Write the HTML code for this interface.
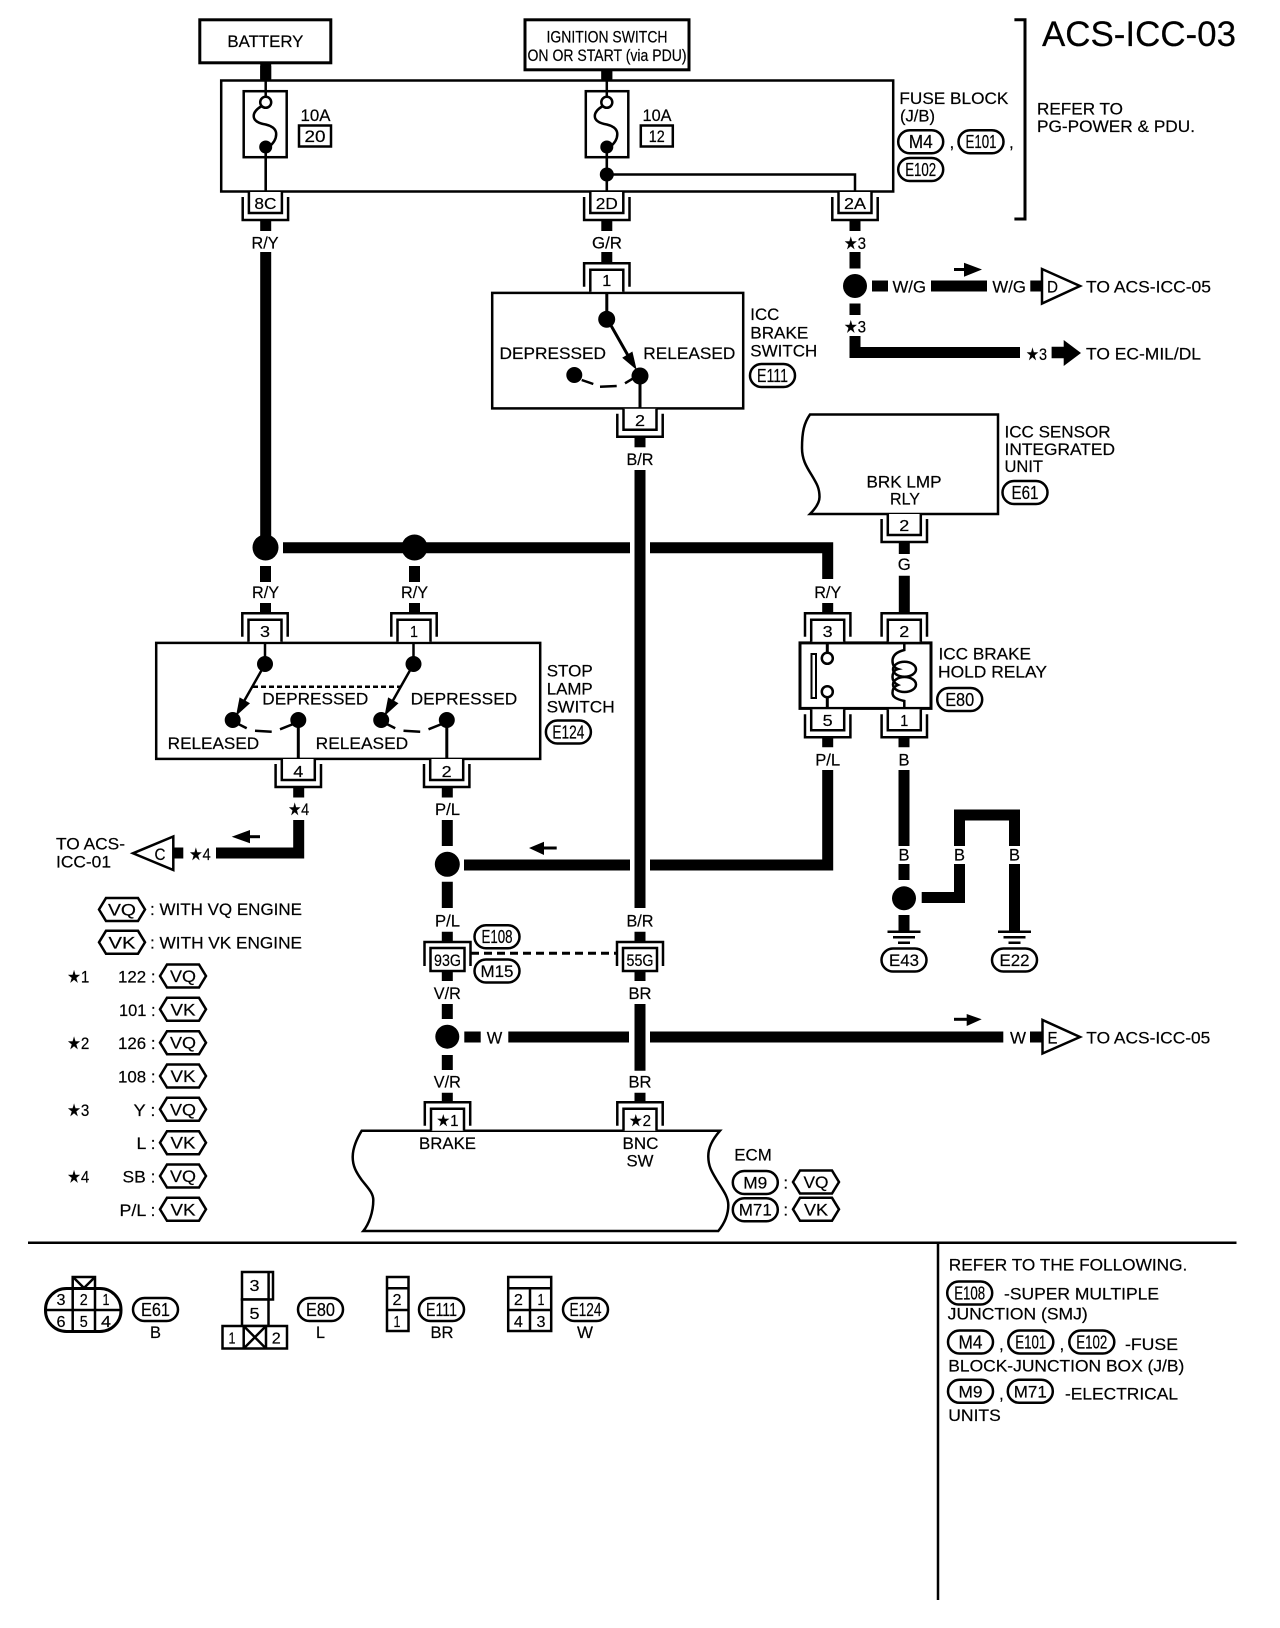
<!DOCTYPE html>
<html><head><meta charset="utf-8"><title>ACS-ICC-03</title>
<style>
html,body{margin:0;padding:0;background:#fff}
svg{display:block}
text{font-family:"Liberation Sans","DejaVu Sans",sans-serif;font-size:17px;fill:#000;stroke:#000;stroke-width:.2px}
.m{text-anchor:middle}
.e{text-anchor:end}
.s{font-size:16px}
.p{font-size:18px}
.w{fill:none;stroke:#000;stroke-width:11}
.l{fill:none;stroke:#000;stroke-width:2.5}
.k{fill:none;stroke:#000;stroke-width:3}
.b{fill:#fff;stroke:#000;stroke-width:2.5}
</style></head><body>
<svg width="1280" height="1628" viewBox="0 0 1280 1628" xmlns="http://www.w3.org/2000/svg">
<defs>
<g id="cb"><path class="b" d="M-16.5,0V21H16.5V0"/><path class="l" d="M-22.7,5V28H22.7V5"/></g>
<g id="ct"><path class="b" d="M-16.5,0V-22H16.5V0"/><path class="l" d="M-22.7,-5V-28.4H22.7V-5"/></g>
<g id="cj"><path class="l" d="M-23,24V0H23V24"/><rect class="b" x="-17" y="6" width="34" height="23"/></g>
<polygon id="hex" class="b" points="-23,0 -16,-11.5 16,-11.5 23,0 16,11.5 -16,11.5"/>
<rect id="p46" class="b" x="-22.5" y="-11.5" width="45" height="23" rx="11.5" ry="11.5"/>
<g id="gnd"><path class="l" d="M-16.5,0H16.5M-11,5.5H11M-6,11H6" stroke-width="3"/></g>
<g id="fuse"><path class="l" d="M0,80V97M0,147V192"/><circle cx="0" cy="102.3" r="5.5" fill="#fff" stroke="#000" stroke-width="2.5"/><circle cx="0" cy="147" r="6.5" fill="#000"/><path class="l" d="M-4,106C-9,109-12,112-12,116C-12,121-6,123.5 0,124.5C6,126 10.5,129 10.5,134C10.5,140 7,144 3,147"/></g>
<g id="sw"><circle cx="265" cy="664" r="8"/><path class="l" d="M265,642V664M264,666L243,703" stroke-width="3"/><polygon points="236,716 239.6,697.4 250,703.2"/><circle cx="232.7" cy="720" r="8"/><circle cx="298.3" cy="720" r="8"/><path class="k" d="M298.3,720V759"/><path class="l" d="M238.3,724L246.7,728.3M255,730.7L271.7,731.7M280,729.3L293.3,724"/></g>
</defs>

<!-- top -->
<rect x="199.8" y="19.8" width="131" height="43" fill="#fff" stroke="#000" stroke-width="3"/>
<text x="265.4" y="47" class="m" textLength="76" lengthAdjust="spacingAndGlyphs">BATTERY</text>
<rect x="525" y="19.8" width="164" height="50" fill="#fff" stroke="#000" stroke-width="3"/>
<text x="607" y="42.5" class="m" textLength="121" lengthAdjust="spacingAndGlyphs">IGNITION SWITCH</text>
<text x="607" y="61" class="m" textLength="159" lengthAdjust="spacingAndGlyphs">ON OR START (via PDU)</text>
<path class="w" d="M265.7,64V80M606.8,70V80"/>
<rect x="221.2" y="80.5" width="672" height="111" fill="#fff" stroke="#000" stroke-width="2.5"/>
<path class="w" d="M265.7,66V79M606.8,71V79"/>
<rect x="243.7" y="91.2" width="43" height="66" class="b"/>
<rect x="585.8" y="91.2" width="42.5" height="66" class="b"/>
<use href="#fuse" x="265.7"/><use href="#fuse" x="606.8"/>
<text x="300.5" y="121" textLength="30" lengthAdjust="spacingAndGlyphs">10A</text>
<rect x="299" y="125.5" width="32" height="21" class="b"/>
<text x="315" y="142" class="m" textLength="21" lengthAdjust="spacingAndGlyphs">20</text>
<text x="642.5" y="121" textLength="29" lengthAdjust="spacingAndGlyphs">10A</text>
<rect x="640.8" y="125.5" width="32" height="21" class="b"/>
<text x="656.8" y="142" class="m" textLength="16" lengthAdjust="spacingAndGlyphs">12</text>
<circle cx="606.8" cy="174.5" r="7"/>
<path class="l" d="M606.8,174.5H855V192"/>

<use href="#cb" x="265.4" y="192"/><use href="#cb" x="606.8" y="192"/><use href="#cb" x="855" y="192"/>
<path class="l" d="M265.7,147V192M606.8,147V192"/>
<text x="265.4" y="209" class="m s" textLength="22" lengthAdjust="spacingAndGlyphs">8C</text>
<text x="606.8" y="209" class="m s" textLength="22" lengthAdjust="spacingAndGlyphs">2D</text>
<text x="855" y="209" class="m s" textLength="22" lengthAdjust="spacingAndGlyphs">2A</text>
<path class="w" d="M265.7,220V231M606.8,220V231M855,220V231"/>
<text x="265" y="248.5" class="m" textLength="27" lengthAdjust="spacingAndGlyphs">R/Y</text>
<text x="607" y="248.5" class="m" textLength="30" lengthAdjust="spacingAndGlyphs">G/R</text>
<path class="w" d="M265.7,252V540"/>
<path class="w" d="M606.8,252V264"/>

<!-- bracket and title -->
<path class="k" d="M1014.4,19.8H1025V219H1014.4"/>
<text x="1042" y="46" style="font-size:35px" textLength="194" lengthAdjust="spacingAndGlyphs">ACS-ICC-03</text>
<text x="1037" y="114.5" textLength="86" lengthAdjust="spacingAndGlyphs">REFER TO</text>
<text x="1037" y="132.2" textLength="158" lengthAdjust="spacingAndGlyphs">PG-POWER &amp; PDU.</text>
<text x="899.4" y="104" textLength="109" lengthAdjust="spacingAndGlyphs">FUSE BLOCK</text>
<text x="900" y="121.7" textLength="35" lengthAdjust="spacingAndGlyphs">(J/B)</text>
<use href="#p46" x="920.7" y="141.7"/><text x="920.7" y="148" class="m p" textLength="24" lengthAdjust="spacingAndGlyphs">M4</text>
<text x="949.5" y="148">,</text>
<use href="#p46" x="981" y="141.7"/><text x="981" y="148" class="m p" textLength="31" lengthAdjust="spacingAndGlyphs">E101</text>
<text x="1009" y="148">,</text>
<use href="#p46" x="920.7" y="169.5"/><text x="920.7" y="175.8" class="m p" textLength="31" lengthAdjust="spacingAndGlyphs">E102</text>

<!-- right of 2A -->
<text x="855" y="249" class="m" textLength="22" lengthAdjust="spacingAndGlyphs">★3</text>
<path class="w" d="M855,252V268.5"/>
<circle cx="855" cy="286" r="12"/>
<path class="w" d="M855,303.5V315"/>
<text x="855" y="332.5" class="m" textLength="22" lengthAdjust="spacingAndGlyphs">★3</text>
<path class="w" d="M855,336V352.5H1020"/>
<text x="1026" y="360" textLength="21" lengthAdjust="spacingAndGlyphs">★3</text>
<polygon points="1051.6,346.7 1063.7,346.7 1063.7,340 1081,353 1063.7,366 1063.7,358.3 1051.6,358.3"/>
<text x="1086" y="359.5" textLength="115" lengthAdjust="spacingAndGlyphs">TO EC-MIL/DL</text>
<path class="w" d="M872,286H888"/>
<text x="892.5" y="292.7" textLength="33.5" lengthAdjust="spacingAndGlyphs">W/G</text>
<path class="w" d="M931,286H987"/>
<path class="k" d="M954,269.5H966"/><polygon points="982,269.5 964,262.7 964,276.7"/>
<text x="992.4" y="292.7" textLength="33.5" lengthAdjust="spacingAndGlyphs">W/G</text>
<path class="w" d="M1030.3,286H1042"/>
<polygon class="b" points="1042,269 1042,303.5 1080,286"/>
<text x="1047" y="292.7" textLength="11" lengthAdjust="spacingAndGlyphs">D</text>
<text x="1086" y="292.7" textLength="125" lengthAdjust="spacingAndGlyphs">TO ACS-ICC-05</text>

<!-- ICC brake switch -->
<rect x="492.2" y="292.9" width="251" height="115.5" class="b"/>
<use href="#ct" x="606.8" y="291.7"/>
<text x="606.8" y="286" class="m s" textLength="9" lengthAdjust="spacingAndGlyphs">1</text>
<path class="k" d="M606.8,292V319M609,322L630,359"/>
<circle cx="606.7" cy="319.3" r="8.5"/>
<polygon points="636.7,370 622.2,357.7 632.4,351.5"/>
<circle cx="640" cy="376" r="8.5"/><circle cx="574.3" cy="375" r="8"/>
<path class="k" d="M640,376V408"/>
<path class="l" d="M581.7,380L593.3,384M600,386.7L616.7,386M625,383.3L633.3,378.3"/>
<text x="499.5" y="359" textLength="106.5" lengthAdjust="spacingAndGlyphs">DEPRESSED</text>
<text x="643.3" y="359" textLength="92" lengthAdjust="spacingAndGlyphs">RELEASED</text>
<text x="750.3" y="320" textLength="29" lengthAdjust="spacingAndGlyphs">ICC</text>
<text x="750.3" y="338.3" textLength="58" lengthAdjust="spacingAndGlyphs">BRAKE</text>
<text x="750.3" y="356.7" textLength="67" lengthAdjust="spacingAndGlyphs">SWITCH</text>
<use href="#p46" x="772.5" y="375.5"/><text x="772.5" y="382" class="m p" textLength="31" lengthAdjust="spacingAndGlyphs">E111</text>
<use href="#cb" x="640" y="408.8"/>
<text x="640" y="426" class="m s" textLength="10" lengthAdjust="spacingAndGlyphs">2</text>
<path class="w" d="M640,436V447.3"/>
<text x="640" y="465" class="m" textLength="27" lengthAdjust="spacingAndGlyphs">B/R</text>
<path class="w" d="M640,470V908"/>

<!-- junction row -->
<circle cx="265.5" cy="547.5" r="13"/><circle cx="414.5" cy="547.5" r="13"/>
<path class="w" d="M283,547.8H630M650,547.8H827.7V579"/>
<path class="w" d="M265.5,566V582M414.5,566V582"/>
<text x="265.5" y="598" class="m" textLength="27" lengthAdjust="spacingAndGlyphs">R/Y</text>
<text x="414.5" y="598" class="m" textLength="27" lengthAdjust="spacingAndGlyphs">R/Y</text>
<text x="827.7" y="598" class="m" textLength="27" lengthAdjust="spacingAndGlyphs">R/Y</text>
<path class="w" d="M265.5,603V614M414.5,603V614M827.7,603V614"/>

<!-- stop lamp switch -->
<rect x="156.2" y="642.9" width="384" height="116" class="b"/>
<use href="#ct" x="265" y="641.7"/><use href="#ct" x="414" y="641.7"/>
<text x="265" y="637" class="m s" textLength="10" lengthAdjust="spacingAndGlyphs">3</text>
<text x="414" y="637" class="m s" textLength="8" lengthAdjust="spacingAndGlyphs">1</text>
<use href="#sw"/><use href="#sw" x="148.5"/>
<path class="l" d="M253,686.7H400" stroke-dasharray="5 3"/>
<text x="262.3" y="704.5" textLength="106" lengthAdjust="spacingAndGlyphs">DEPRESSED</text>
<text x="410.7" y="704.5" textLength="106.5" lengthAdjust="spacingAndGlyphs">DEPRESSED</text>
<text x="167.7" y="749" textLength="91.5" lengthAdjust="spacingAndGlyphs">RELEASED</text>
<text x="315.7" y="749" textLength="92.5" lengthAdjust="spacingAndGlyphs">RELEASED</text>
<text x="546.7" y="676.7" textLength="46" lengthAdjust="spacingAndGlyphs">STOP</text>
<text x="546.7" y="694.5" textLength="46" lengthAdjust="spacingAndGlyphs">LAMP</text>
<text x="546.7" y="712.7" textLength="68" lengthAdjust="spacingAndGlyphs">SWITCH</text>
<use href="#p46" x="568.4" y="732"/><text x="568.4" y="738.5" class="m p" textLength="32" lengthAdjust="spacingAndGlyphs">E124</text>
<use href="#cb" x="298.3" y="759"/><use href="#cb" x="446.7" y="759"/>
<text x="298.3" y="777" class="m s" textLength="10" lengthAdjust="spacingAndGlyphs">4</text>
<text x="446.7" y="777" class="m s" textLength="10" lengthAdjust="spacingAndGlyphs">2</text>
<path class="w" d="M298.7,788V797.5M447.3,788V797.5"/>
<text x="298.7" y="815" class="m" textLength="21" lengthAdjust="spacingAndGlyphs">★4</text>
<text x="447.5" y="815" class="m" textLength="25" lengthAdjust="spacingAndGlyphs">P/L</text>
<path class="w" d="M298.7,820V853H216"/>
<path class="k" d="M246,836.7H260"/><polygon points="231.7,836.7 250,830 250,843.3"/>
<text x="189.3" y="860" textLength="21.5" lengthAdjust="spacingAndGlyphs">★4</text>
<path class="w" d="M174.3,853H183.3"/>
<polygon class="b" points="173.3,836.5 173.3,870 133,853.3"/>
<text x="160" y="860" class="m" textLength="11" lengthAdjust="spacingAndGlyphs">C</text>
<text x="56" y="849.5" textLength="69" lengthAdjust="spacingAndGlyphs">TO ACS-</text>
<text x="56" y="867.5" textLength="55" lengthAdjust="spacingAndGlyphs">ICC-01</text>

<!-- P/L and BR vertical -->
<path class="w" d="M447.3,820V846"/>
<circle cx="447.3" cy="864.3" r="12.5"/>
<path class="w" d="M464,865H630M650,865H827.7V770"/>
<path class="k" d="M543,848H556.7"/><polygon points="529,848 544,841.7 544,855"/>
<path class="w" d="M447.3,881.7V908"/>
<text x="447.5" y="926.7" class="m" textLength="25" lengthAdjust="spacingAndGlyphs">P/L</text>
<text x="640" y="926.7" class="m" textLength="27" lengthAdjust="spacingAndGlyphs">B/R</text>
<path class="w" d="M447.3,931.7V942M640,931.7V942"/>
<use href="#cj" x="447.5" y="942"/><use href="#cj" x="640" y="942"/>
<text x="447.5" y="966" class="m" style="font-size:17px" textLength="27" lengthAdjust="spacingAndGlyphs">93G</text>
<text x="640" y="966" class="m" style="font-size:17px" textLength="27" lengthAdjust="spacingAndGlyphs">55G</text>
<path class="k" d="M471,953.3H616.7" stroke-dasharray="8 5"/>
<use href="#p46" x="497" y="936.7"/><text x="497" y="943" class="m p" textLength="31" lengthAdjust="spacingAndGlyphs">E108</text>
<use href="#p46" x="497" y="971"/><text x="497" y="977" class="m" textLength="33" lengthAdjust="spacingAndGlyphs">M15</text>
<path class="w" d="M447.3,971V981M640,971V981"/>
<text x="447.3" y="999" class="m" textLength="27" lengthAdjust="spacingAndGlyphs">V/R</text>
<text x="640" y="999" class="m" textLength="23" lengthAdjust="spacingAndGlyphs">BR</text>
<path class="w" d="M447.3,1004V1019M640,1004V1070.7"/>
<circle cx="447.3" cy="1036.7" r="12"/>
<path class="w" d="M447.3,1055V1070"/>
<path class="w" d="M464.3,1037H480.7M508.3,1037H629M650,1037H1003.3"/>
<text x="486.7" y="1043.3" textLength="15.5" lengthAdjust="spacingAndGlyphs">W</text>
<path class="k" d="M954,1019.3H968"/><polygon points="981.7,1019.3 966.7,1014 966.7,1026"/>
<text x="1010" y="1043.3" textLength="16" lengthAdjust="spacingAndGlyphs">W</text>
<path class="w" d="M1030,1037H1042"/>
<polygon class="b" points="1042.5,1020 1042.5,1053.5 1080,1037"/>
<text x="1047.5" y="1043.3" textLength="10" lengthAdjust="spacingAndGlyphs">E</text>
<text x="1086.3" y="1043.3" textLength="124" lengthAdjust="spacingAndGlyphs">TO ACS-ICC-05</text>
<text x="447.3" y="1087.3" class="m" textLength="27" lengthAdjust="spacingAndGlyphs">V/R</text>
<text x="640" y="1087.3" class="m" textLength="23" lengthAdjust="spacingAndGlyphs">BR</text>
<path class="w" d="M447.3,1092.7V1103M640,1092.7V1103"/>

<!-- ECM -->
<path class="b" d="M361.7,1130.7H720C712,1140 708,1148 708.3,1157C708.5,1167 712,1172 716.7,1180C723,1190 728.3,1197 728.3,1205C728.3,1215 724,1224 718.3,1231H363.3C369,1224 373.3,1212 373.3,1200C373.3,1193 368,1188 361.7,1180C356,1172 352.7,1166 352.7,1157C352.7,1148 356,1140 361.7,1130.7Z"/>
<use href="#ct" x="447.5" y="1130.7"/><use href="#ct" x="640" y="1130.7"/>
<text x="447.5" y="1126" class="m s" textLength="22" lengthAdjust="spacingAndGlyphs">★1</text>
<text x="640" y="1126" class="m s" textLength="22" lengthAdjust="spacingAndGlyphs">★2</text>
<text x="447.5" y="1149" class="m" textLength="57" lengthAdjust="spacingAndGlyphs">BRAKE</text>
<text x="640.5" y="1149" class="m" textLength="36" lengthAdjust="spacingAndGlyphs">BNC</text>
<text x="640" y="1166.7" class="m" textLength="27" lengthAdjust="spacingAndGlyphs">SW</text>
<text x="734.3" y="1160.7" textLength="37.5" lengthAdjust="spacingAndGlyphs">ECM</text>
<use href="#p46" x="755.3" y="1182.5"/><text x="755.3" y="1188.5" class="m" textLength="24" lengthAdjust="spacingAndGlyphs">M9</text>
<text x="785.7" y="1188.5" class="m">:</text>
<use href="#hex" x="816" y="1182"/><text x="816" y="1188" class="m" textLength="25" lengthAdjust="spacingAndGlyphs">VQ</text>
<use href="#p46" x="755.3" y="1209.7"/><text x="755.3" y="1215.7" class="m" textLength="33" lengthAdjust="spacingAndGlyphs">M71</text>
<text x="785.7" y="1215.7" class="m">:</text>
<use href="#hex" x="816" y="1209.3"/><text x="816" y="1215.3" class="m" textLength="24" lengthAdjust="spacingAndGlyphs">VK</text>

<!-- ICC sensor + relay -->
<path class="b" d="M810,414.5H998V514H810C815,509 819.5,503 819.5,497C819.5,488 817,484 811,474C806,466 802,459 802,448C802,432 804,423 810,414.5Z"/>
<text x="904" y="487.7" class="m" textLength="75" lengthAdjust="spacingAndGlyphs">BRK LMP</text>
<text x="905" y="504.7" class="m" textLength="30" lengthAdjust="spacingAndGlyphs">RLY</text>
<text x="1004.5" y="437.7" textLength="106" lengthAdjust="spacingAndGlyphs">ICC SENSOR</text>
<text x="1004.5" y="455" textLength="110.5" lengthAdjust="spacingAndGlyphs">INTEGRATED</text>
<text x="1004.5" y="472" textLength="38.5" lengthAdjust="spacingAndGlyphs">UNIT</text>
<use href="#p46" x="1025" y="492.5"/><text x="1025" y="499" class="m p" textLength="27" lengthAdjust="spacingAndGlyphs">E61</text>
<use href="#cb" x="904.3" y="514"/>
<text x="904.3" y="531" class="m s" textLength="10" lengthAdjust="spacingAndGlyphs">2</text>
<path class="w" d="M904.3,542V554"/>
<text x="904.3" y="570" class="m" textLength="13" lengthAdjust="spacingAndGlyphs">G</text>
<path class="w" d="M904.3,575.7V614"/>
<rect x="800" y="642.9" width="131" height="65.5" fill="#fff" stroke="#000" stroke-width="3"/>
<use href="#ct" x="827.7" y="641.7"/><use href="#ct" x="904.3" y="641.7"/>
<text x="827.7" y="637" class="m s" textLength="10" lengthAdjust="spacingAndGlyphs">3</text>
<text x="904.3" y="637" class="m s" textLength="10" lengthAdjust="spacingAndGlyphs">2</text>
<path class="k" d="M827.3,642V653M827.3,697V709"/>
<circle cx="827.3" cy="658.3" r="5.5" class="b"/><circle cx="827.3" cy="691.7" r="5.5" class="b"/>
<rect x="811.5" y="654" width="4.5" height="44" fill="#fff" stroke="#000" stroke-width="2"/>
<path class="l" d="M904.3,642V650C896,652 892.5,656 892.5,661C892.5,666 895,668 898,669C893,670 892.5,675 892.5,677C892.5,680 894,683 898,685C893,687 892.5,690 892.5,693C892.5,697 896,699 904.3,701V709"/>
<ellipse cx="904.5" cy="669.3" rx="11.5" ry="7.5" class="l"/>
<ellipse cx="904.5" cy="684.5" rx="11.5" ry="7.5" class="l"/>
<text x="938.5" y="659.3" textLength="92.5" lengthAdjust="spacingAndGlyphs">ICC BRAKE</text>
<text x="938" y="677.3" textLength="109" lengthAdjust="spacingAndGlyphs">HOLD RELAY</text>
<use href="#p46" x="959.7" y="699.5"/><text x="959.7" y="706" class="m p" textLength="29" lengthAdjust="spacingAndGlyphs">E80</text>
<use href="#cb" x="827.7" y="709.3"/><use href="#cb" x="904.3" y="709.3"/>
<text x="827.7" y="726" class="m s" textLength="10" lengthAdjust="spacingAndGlyphs">5</text>
<text x="904.3" y="726" class="m s" textLength="8" lengthAdjust="spacingAndGlyphs">1</text>
<path class="w" d="M827.7,737V747.3M904,737V747.3"/>
<text x="827.7" y="765.5" class="m" textLength="25" lengthAdjust="spacingAndGlyphs">P/L</text>
<text x="904" y="765.5" class="m" textLength="11" lengthAdjust="spacingAndGlyphs">B</text>
<path class="w" d="M904,770V846"/>
<text x="904" y="860.7" class="m" textLength="11" lengthAdjust="spacingAndGlyphs">B</text>
<text x="959.5" y="860.7" class="m" textLength="11" lengthAdjust="spacingAndGlyphs">B</text>
<text x="1014.5" y="860.7" class="m" textLength="11" lengthAdjust="spacingAndGlyphs">B</text>
<path class="w" d="M904,864V880M904,915V931"/>
<circle cx="904" cy="898.3" r="12"/>
<path class="w" d="M921.7,897.5H959.5V864M959.5,846V815H1014.5V846M1014.5,864V931"/>
<use href="#gnd" x="904" y="931.7"/><use href="#gnd" x="1014.5" y="931.7"/>
<use href="#p46" x="904" y="960"/><text x="904" y="966" class="m" textLength="30" lengthAdjust="spacingAndGlyphs">E43</text>
<use href="#p46" x="1014.5" y="960"/><text x="1014.5" y="966" class="m" textLength="30" lengthAdjust="spacingAndGlyphs">E22</text>

<!-- legend -->
<use href="#hex" x="122" y="909.5"/><text x="122" y="915.5" class="m" textLength="28" lengthAdjust="spacingAndGlyphs">VQ</text>
<text x="150" y="915" textLength="152" lengthAdjust="spacingAndGlyphs">: WITH VQ ENGINE</text>
<use href="#hex" x="122" y="942.3"/><text x="122" y="948.3" class="m" textLength="27" lengthAdjust="spacingAndGlyphs">VK</text>
<text x="150" y="948.3" textLength="152" lengthAdjust="spacingAndGlyphs">: WITH VK ENGINE</text>

<text x="67.3" y="982.7" textLength="22" lengthAdjust="spacingAndGlyphs">★1</text>
<text x="67.3" y="1049.2" textLength="22" lengthAdjust="spacingAndGlyphs">★2</text>
<text x="67.3" y="1115.8" textLength="22" lengthAdjust="spacingAndGlyphs">★3</text>
<text x="67.3" y="1182.5" textLength="22" lengthAdjust="spacingAndGlyphs">★4</text>

<text x="155.5" y="982.5" class="e" textLength="37.5" lengthAdjust="spacingAndGlyphs">122 :</text>
<text x="155.5" y="1015.8" class="e" textLength="36.5" lengthAdjust="spacingAndGlyphs">101 :</text>
<text x="155.5" y="1049.2" class="e" textLength="37.5" lengthAdjust="spacingAndGlyphs">126 :</text>
<text x="155.5" y="1082.5" class="e" textLength="37.5" lengthAdjust="spacingAndGlyphs">108 :</text>
<text x="155.5" y="1115.8" class="e" textLength="22" lengthAdjust="spacingAndGlyphs">Y :</text>
<text x="155.5" y="1149.2" class="e" textLength="19" lengthAdjust="spacingAndGlyphs">L :</text>
<text x="155.5" y="1182.5" class="e" textLength="33" lengthAdjust="spacingAndGlyphs">SB :</text>
<text x="155.5" y="1215.8" class="e" textLength="36" lengthAdjust="spacingAndGlyphs">P/L :</text>

<use href="#hex" x="183" y="976"/><text x="183" y="982" class="m" textLength="26" lengthAdjust="spacingAndGlyphs">VQ</text>
<use href="#hex" x="183" y="1009.3"/><text x="183" y="1015.3" class="m" textLength="25" lengthAdjust="spacingAndGlyphs">VK</text>
<use href="#hex" x="183" y="1042.7"/><text x="183" y="1048.7" class="m" textLength="26" lengthAdjust="spacingAndGlyphs">VQ</text>
<use href="#hex" x="183" y="1076"/><text x="183" y="1082" class="m" textLength="25" lengthAdjust="spacingAndGlyphs">VK</text>
<use href="#hex" x="183" y="1109.3"/><text x="183" y="1115.3" class="m" textLength="26" lengthAdjust="spacingAndGlyphs">VQ</text>
<use href="#hex" x="183" y="1142.7"/><text x="183" y="1148.7" class="m" textLength="25" lengthAdjust="spacingAndGlyphs">VK</text>
<use href="#hex" x="183" y="1176"/><text x="183" y="1182" class="m" textLength="26" lengthAdjust="spacingAndGlyphs">VQ</text>
<use href="#hex" x="183" y="1209.3"/><text x="183" y="1215.3" class="m" textLength="25" lengthAdjust="spacingAndGlyphs">VK</text>

<!-- bottom rule -->
<path class="l" d="M28,1242.7H1236.5M938,1243V1600"/>

<!-- connector faces -->
<rect x="72.7" y="1277" width="22.3" height="13" class="b"/>
<path class="l" d="M73,1277L84,1288L95,1277"/>
<rect x="45.5" y="1288.5" width="75.5" height="43" rx="21" ry="21" fill="#fff" stroke="#000" stroke-width="3"/>
<path class="l" d="M45,1310H122M72.7,1288V1332M95,1288V1332"/>
<text x="61" y="1305" class="m s" textLength="9" lengthAdjust="spacingAndGlyphs">3</text>
<text x="83.7" y="1305" class="m s" textLength="8" lengthAdjust="spacingAndGlyphs">2</text>
<text x="106" y="1305" class="m s" textLength="7" lengthAdjust="spacingAndGlyphs">1</text>
<text x="61" y="1327" class="m s" textLength="9" lengthAdjust="spacingAndGlyphs">6</text>
<text x="83.7" y="1327" class="m s" textLength="8" lengthAdjust="spacingAndGlyphs">5</text>
<text x="106" y="1327" class="m s" textLength="10" lengthAdjust="spacingAndGlyphs">4</text>
<use href="#p46" x="155.5" y="1309.5"/><text x="155.5" y="1316" class="m p" textLength="29" lengthAdjust="spacingAndGlyphs">E61</text>
<text x="155.5" y="1338" class="m" textLength="11" lengthAdjust="spacingAndGlyphs">B</text>

<rect x="242" y="1272" width="31" height="27.5" class="b"/>
<path class="l" d="M268.6,1272V1299"/>
<rect x="242" y="1299.5" width="26.5" height="26.5" class="b"/>
<rect x="222.5" y="1326" width="64.5" height="22.5" class="b"/>
<path class="l" d="M243.7,1326V1348.5M266,1326V1348.5M243.7,1326L266,1348.5M266,1326L243.7,1348.5"/>
<text x="254.5" y="1291" class="m s" textLength="10" lengthAdjust="spacingAndGlyphs">3</text>
<text x="254.5" y="1319" class="m s" textLength="10" lengthAdjust="spacingAndGlyphs">5</text>
<text x="232" y="1343.5" class="m s" textLength="7" lengthAdjust="spacingAndGlyphs">1</text>
<text x="276.3" y="1343.5" class="m s" textLength="9" lengthAdjust="spacingAndGlyphs">2</text>
<use href="#p46" x="320.5" y="1309.5"/><text x="320.5" y="1316" class="m p" textLength="29" lengthAdjust="spacingAndGlyphs">E80</text>
<text x="320.5" y="1338" class="m" textLength="9" lengthAdjust="spacingAndGlyphs">L</text>

<rect x="387" y="1277" width="21.5" height="54" class="b"/>
<path class="l" d="M387,1288.3H408.5M387,1310H408.5"/>
<text x="397" y="1305" class="m s" textLength="9" lengthAdjust="spacingAndGlyphs">2</text>
<text x="397" y="1327" class="m s" textLength="7" lengthAdjust="spacingAndGlyphs">1</text>
<use href="#p46" x="441.5" y="1309.5"/><text x="441.5" y="1316" class="m p" textLength="31" lengthAdjust="spacingAndGlyphs">E111</text>
<text x="442" y="1338" class="m" textLength="23" lengthAdjust="spacingAndGlyphs">BR</text>

<rect x="508.2" y="1277" width="43" height="54" class="b"/>
<path class="l" d="M508,1288.3H551M508,1310H551M530,1288V1331"/>
<text x="518.4" y="1305" class="m s" textLength="9" lengthAdjust="spacingAndGlyphs">2</text>
<text x="541" y="1305" class="m s" textLength="7" lengthAdjust="spacingAndGlyphs">1</text>
<text x="518.4" y="1327" class="m s" textLength="9" lengthAdjust="spacingAndGlyphs">4</text>
<text x="541" y="1327" class="m s" textLength="9" lengthAdjust="spacingAndGlyphs">3</text>
<use href="#p46" x="585.5" y="1309.5"/><text x="585.5" y="1316" class="m p" textLength="32" lengthAdjust="spacingAndGlyphs">E124</text>
<text x="585" y="1338" class="m" textLength="16" lengthAdjust="spacingAndGlyphs">W</text>

<!-- refer -->
<text x="948.8" y="1270.7" textLength="238.5" lengthAdjust="spacingAndGlyphs">REFER TO THE FOLLOWING.</text>
<use href="#p46" x="969.7" y="1293"/><text x="969.7" y="1299.5" class="m p" textLength="31" lengthAdjust="spacingAndGlyphs">E108</text>
<text x="1004" y="1299.3" textLength="155" lengthAdjust="spacingAndGlyphs">-SUPER MULTIPLE</text>
<text x="947.7" y="1319.3" textLength="140" lengthAdjust="spacingAndGlyphs">JUNCTION (SMJ)</text>
<use href="#p46" x="970.5" y="1342"/><text x="970.5" y="1348.5" class="m p" textLength="24" lengthAdjust="spacingAndGlyphs">M4</text>
<text x="999" y="1350">,</text>
<use href="#p46" x="1030.8" y="1342"/><text x="1030.8" y="1348.5" class="m p" textLength="31" lengthAdjust="spacingAndGlyphs">E101</text>
<text x="1059.5" y="1350">,</text>
<use href="#p46" x="1091.8" y="1342"/><text x="1091.8" y="1348.5" class="m p" textLength="31" lengthAdjust="spacingAndGlyphs">E102</text>
<text x="1125" y="1350" textLength="53" lengthAdjust="spacingAndGlyphs">-FUSE</text>
<text x="948.3" y="1371.7" textLength="236" lengthAdjust="spacingAndGlyphs">BLOCK-JUNCTION BOX (J/B)</text>
<use href="#p46" x="970.5" y="1391.3"/><text x="970.5" y="1397.3" class="m" textLength="24" lengthAdjust="spacingAndGlyphs">M9</text>
<text x="999" y="1399.3">,</text>
<use href="#p46" x="1030.3" y="1391.3"/><text x="1030.3" y="1397.3" class="m" textLength="33" lengthAdjust="spacingAndGlyphs">M71</text>
<text x="1065" y="1399.3" textLength="113" lengthAdjust="spacingAndGlyphs">-ELECTRICAL</text>
<text x="948.3" y="1421" textLength="52.5" lengthAdjust="spacingAndGlyphs">UNITS</text>
</svg>
</body></html>
